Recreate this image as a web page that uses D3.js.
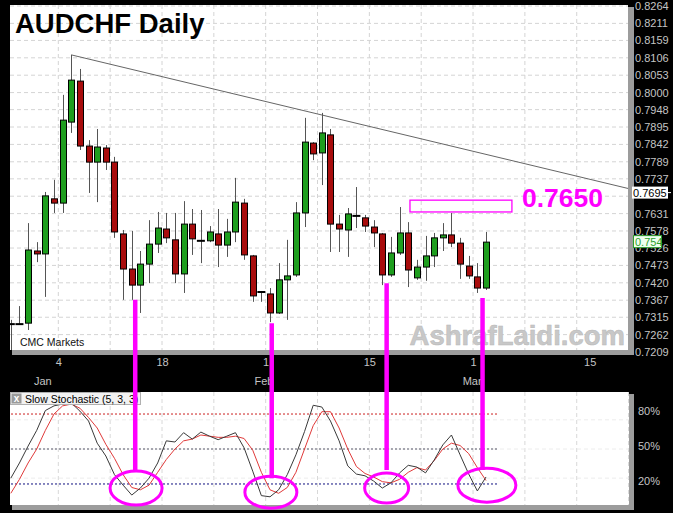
<!DOCTYPE html>
<html><head><meta charset="utf-8">
<script src="https://cdn.jsdelivr.net/npm/d3@7"></script>
<style>body{margin:0;background:#000;}svg{display:block;font-family:Arial,"Liberation Sans",sans-serif;}</style>
</head><body><svg id="c" width="673" height="513"></svg>
<script>
// ---------- data ----------
const opens  = [.7294,.7294,.7297,.7517,.7508,.7676,.7663,.7910,.8035,.7837,.7788,.7831,.7788,.7569,.7462,.7413,.7477,.7538,.7584,.7551,.7447,.7599,.7548,.7548,.7569,.7535,.7575,.7663,.7502,.7392,.7386,.7328,.7429,.7444,.7633,.7846,.7816,.7871,.7599,.7581,.7624,.7618,.7590,.7569,.7444,.7511,.7572,.7435,.7468,.7502,.7557,.7566,.7541,.7471,.7438,.7404];
const highs  = [.7307,.7349,.7602,.7544,.7697,.7734,.7993,.8115,.8072,.7855,.7889,.7840,.7804,.7581,.7578,.7517,.7611,.7636,.7633,.7633,.7669,.7645,.7642,.7593,.7645,.7615,.7740,.7676,.7505,.7395,.7404,.7480,.7551,.7666,.7923,.7849,.7938,.7889,.7627,.7648,.7712,.7627,.7611,.7572,.7560,.7651,.7605,.7490,.7563,.7572,.7602,.7633,.7557,.7502,.7480,.7575];
const lows   = [.7215,.7294,.7276,.7483,.7377,.7633,.7633,.7877,.7825,.7694,.7666,.7764,.7557,.7368,.7368,.7328,.7419,.7511,.7541,.7419,.7389,.7505,.7480,.7544,.7468,.7499,.7544,.7490,.7362,.7362,.7300,.7325,.7307,.7438,.7590,.7794,.7718,.7514,.7514,.7499,.7587,.7575,.7529,.7413,.7438,.7505,.7407,.7429,.7426,.7468,.7517,.7529,.7432,.7432,.7389,.7398];
const closes = [.7294,.7294,.7520,.7508,.7685,.7663,.7916,.8038,.7837,.7788,.7834,.7788,.7575,.7462,.7413,.7477,.7538,.7587,.7557,.7447,.7599,.7554,.7548,.7575,.7535,.7575,.7666,.7505,.7380,.7392,.7328,.7429,.7441,.7633,.7849,.7813,.7877,.7599,.7584,.7630,.7624,.7593,.7572,.7444,.7511,.7572,.7459,.7468,.7502,.7557,.7566,.7541,.7477,.7441,.7404,.7544];

const stochK = [25,38,52.5,66,83,87,88.5,89.5,82.5,74,55,44,28,19,10.5,16.5,25,38,57,56,64,58.5,64.5,61,58,61,64,51,31,10,9,15,28,45,65,87.5,86,74,57,35.5,28.5,27,22.5,16.5,21,29.5,36,34.5,29.5,40.5,53.5,62,45,28.5,14,26];
const stochD = [12,24,38,50,66,80,87,88.5,85,77,68,54,42,28,17,15,19,30,41,50,57,58.5,62,61,60,60,61,59,49,30,15,12,17,30,50,70,82,82,68,50,35,29,26,22,21,24,30,34,32,40,50,55,53,46,34,23];
const stochLevels = [80,50,20];
const stochLevelLabels = ["80%","50%","20%"];

const priceTicks = [0.8264,0.8211,0.8159,0.8106,0.8053,0.8000,0.7948,0.7895,0.7842,0.7789,0.7737,0.7684,0.7631,0.7578,0.7526,0.7473,0.7420,0.7367,0.7315,0.7262,0.7209];
const hiddenTick = 0.7684; // covered by the last-value box in the reference
const dayLabels = ["4","18","1","15","1","15"];
const dayIdx    = [5.5,17.5,29.5,41.5,53.5,67];
const monthLabels = ["Jan","Feb","Mar"];
const monthIdx    = [3.7,29.3,53.4];
const gridIdx = [5.5,11.5,17.5,23.5,29.5,35.5,41.5,47.5,53.5,59.5,65.5,71.5];

const trendIdx   = [7, 71.7];
const trendPrice = [0.8115, 0.7706];
const zoneIdx    = [46.2, 58];
const zonePrice  = [0.7636, 0.7672];
const zoneLabel  = "0.7650";
const lastLine   = 0.7695;
const lastPrice  = 0.7544;

const markIdx    = [14.4, 30.2, 43.5, 54.6];
const markPrice  = [0.7368, 0.7297, 0.7419, 0.7374];
const markStoch  = [31, 25, 32, 32];
const ringIdx    = [14.5, 30.1, 43.5, 55.1];
const ringStoch  = [16.5, 13, 16.5, 19];

// ---------- scales ----------
const x  = d3.scaleLinear().domain([0, 55]).range([10.8, 486]);
const y  = d3.scaleLinear().domain([0.7209, 0.8264]).range([352, 6]);
const ys = d3.scaleLinear().domain([0, 100]).range([507.3, 390.7]);

const svg = d3.select("#c");
svg.append("rect").attr("width",673).attr("height",513).attr("fill","#000");

// panels
const P = {x0:10, x1:628, y0:5, y1:350};
const S = {x0:10, x1:629, y0:392, y1:505};
svg.append("rect").attr("x",P.x0+2).attr("y",P.y0+2).attr("width",P.x1-P.x0+4).attr("height",P.y1-P.y0+3).attr("fill","#9c9c9c");
svg.append("rect").attr("x",P.x0).attr("y",P.y0).attr("width",P.x1-P.x0).attr("height",P.y1-P.y0).attr("fill","#fff");
svg.append("rect").attr("x",S.x0+2).attr("y",S.y0+2).attr("width",S.x1-S.x0+3).attr("height",S.y1-S.y0+3).attr("fill","#9c9c9c");
svg.append("rect").attr("x",S.x0).attr("y",S.y0).attr("width",S.x1-S.x0).attr("height",S.y1-S.y0).attr("fill","#fff");

const defs = svg.append("defs");
defs.append("clipPath").attr("id","cp").append("rect").attr("x",P.x0).attr("y",P.y0).attr("width",P.x1-P.x0).attr("height",P.y1-P.y0);
defs.append("clipPath").attr("id","cs").append("rect").attr("x",S.x0).attr("y",S.y0).attr("width",S.x1-S.x0).attr("height",S.y1-S.y0);

const gm = svg.append("g").attr("clip-path","url(#cp)");
const gs = svg.append("g").attr("clip-path","url(#cs)");

// grids
gm.selectAll(".hg").data(priceTicks).join("line")
  .attr("x1",P.x0).attr("x2",P.x1).attr("y1",d=>y(d)).attr("y2",d=>y(d))
  .attr("stroke","#d4d4d4").attr("stroke-dasharray","4,3").attr("stroke-width",1);
gm.selectAll(".vg").data(gridIdx).join("line")
  .attr("x1",d=>x(d)).attr("x2",d=>x(d)).attr("y1",P.y0).attr("y2",P.y1)
  .attr("stroke","#d4d4d4").attr("stroke-dasharray","4,3").attr("stroke-width",1);
gs.selectAll(".vg").data(gridIdx).join("line")
  .attr("x1",d=>x(d)).attr("x2",d=>x(d)).attr("y1",S.y0).attr("y2",S.y1)
  .attr("stroke","#d8d8d8").attr("stroke-dasharray","4,3");
gs.selectAll(".sg").data([25,50,75]).join("line")
  .attr("x1",S.x0).attr("x2",S.x1).attr("y1",d=>ys(d)).attr("y2",d=>ys(d))
  .attr("stroke","#ececec").attr("stroke-dasharray","4,3");

// watermark & labels in panel
gm.append("text").attr("x",20).attr("y",346).attr("font-size",10.5).attr("fill","#111").text("CMC Markets");
gm.append("text").attr("x",625).attr("y",345).attr("text-anchor","end").attr("font-size",27.5).attr("font-weight","bold")
  .attr("fill","#c8c8c8").attr("stroke","#b8b8b8").attr("stroke-width",0.5).text("AshrafLaidi.com");

// trend line
gm.append("line").attr("x1",x(trendIdx[0])).attr("y1",y(trendPrice[0])).attr("x2",x(trendIdx[1])).attr("y2",y(trendPrice[1]))
  .attr("stroke","#666").attr("stroke-width",1);

// candles
const idx = d3.range(opens.length);
const bw = 6;
gm.selectAll(".wick").data(idx).join("line")
  .attr("x1",i=>Math.round(x(i))+0.5).attr("x2",i=>Math.round(x(i))+0.5)
  .attr("y1",i=>y(highs[i])).attr("y2",i=>y(lows[i]))
  .attr("stroke","#555").attr("stroke-width",1);
gm.selectAll(".body").data(idx.filter(i=>opens[i]!==closes[i])).join("rect")
  .attr("x",i=>Math.round(x(i))-bw/2+0.5).attr("width",bw)
  .attr("y",i=>y(Math.max(opens[i],closes[i])))
  .attr("height",i=>Math.max(1,Math.abs(y(opens[i])-y(closes[i]))))
  .attr("fill",i=>closes[i]>opens[i]?"#1e9e1e":"#a80c0c")
  .attr("stroke","#000").attr("stroke-width",1);
gm.selectAll(".doji").data(idx.filter(i=>opens[i]===closes[i])).join("line")
  .attr("x1",i=>x(i)-4).attr("x2",i=>x(i)+4)
  .attr("y1",i=>y(opens[i])).attr("y2",i=>y(opens[i]))
  .attr("stroke","#000").attr("stroke-width",2);

// resistance zone
gm.append("rect").attr("x",x(zoneIdx[0])).attr("y",y(zonePrice[1]))
  .attr("width",x(zoneIdx[1])-x(zoneIdx[0])).attr("height",y(zonePrice[0])-y(zonePrice[1]))
  .attr("fill","none").attr("stroke","#ff00ff").attr("stroke-width",1.3);
svg.append("text").attr("x",x(zoneIdx[1])+10).attr("y",y(zonePrice[0])-4.5)
  .attr("font-size",26.5).attr("font-weight","bold").attr("fill","#ff00ff").text(zoneLabel);

// title
svg.append("text").attr("x",15).attr("y",33).attr("font-size",27.5).attr("font-weight","bold").attr("fill","#000").text("AUDCHF Daily");

// price axis
const pa = svg.append("g").attr("transform","translate(632,0)")
  .call(d3.axisRight(y).tickValues(priceTicks.filter(d=>d!==hiddenTick)).tickFormat(d3.format(".4f")).tickSize(0).tickPadding(3));
pa.select(".domain").remove();
pa.selectAll("text").attr("fill","#c4c4c4").attr("font-size",11).attr("font-family","Arial, Liberation Sans, sans-serif");

// last-value boxes
svg.append("rect").attr("x",632).attr("y",y(lastLine)-6).attr("width",36).attr("height",12).attr("fill","#fff");
svg.append("line").attr("x1",668).attr("x2",671).attr("y1",y(lastLine)).attr("y2",y(lastLine)).attr("stroke","#fff");
svg.append("text").attr("x",633).attr("y",y(lastLine)+4).attr("font-size",11).attr("fill","#000").text(d3.format(".4f")(lastLine));
svg.append("rect").attr("x",633.5).attr("y",y(lastPrice)-6.5).attr("width",28).attr("height",12).attr("fill","#effff0").attr("stroke","#2e9e2e");
svg.append("text").attr("x",635).attr("y",y(lastPrice)+4).attr("font-size",11).attr("fill","#2e9e2e").text(d3.format(".3f")(lastPrice));

// date axis
const da = svg.append("g").attr("transform","translate(0,356)")
  .call(d3.axisBottom(x).tickValues(dayIdx).tickFormat((d,i)=>dayLabels[i]).tickSize(0).tickPadding(2));
da.select(".domain").remove();
da.selectAll("text").attr("fill","#c4c4c4").attr("font-size",11).attr("font-family","Arial, Liberation Sans, sans-serif");
svg.selectAll(".mon").data(monthLabels).join("text")
  .attr("x",(d,i)=>x(monthIdx[i])).attr("y",385).attr("text-anchor","middle")
  .attr("font-size",11).attr("fill","#c4c4c4").text(d=>d);

// stochastic levels
const levelColors = ["#cc2020","#555566","#101080"];
gs.selectAll(".lvl").data(stochLevels).join("line")
  .attr("x1",S.x0+1).attr("x2",x(56.5)).attr("y1",d=>ys(d)).attr("y2",d=>ys(d))
  .attr("stroke",(d,i)=>levelColors[i]).attr("stroke-dasharray","2,2").attr("stroke-width",1);
svg.selectAll(".lvlt").data(stochLevels).join("text")
  .attr("x",638).attr("y",d=>ys(d)+1).attr("font-size",11).attr("fill","#c4c4c4")
  .text((d,i)=>stochLevelLabels[i]);

const ln = arr => d3.line().x((d,i)=>x(i)).y(d=>ys(d))(arr);
gs.append("path").attr("d",ln(stochD)).attr("fill","none").attr("stroke","#e03a3a").attr("stroke-width",1);
gs.append("path").attr("d",ln(stochK)).attr("fill","none").attr("stroke","#3a3a3a").attr("stroke-width",1);

// legend
svg.append("rect").attr("x",10.5).attr("y",392.5).attr("width",130).attr("height",12).attr("fill","#f2f2f2").attr("stroke","#b0b0b0");
svg.append("rect").attr("x",11.5).attr("y",393.5).attr("width",10).attr("height",10).attr("fill","#9a9a9a");
svg.append("text").attr("x",16.5).attr("y",402).attr("text-anchor","middle").attr("font-size",10).attr("font-weight","bold").attr("fill","#fff").text("x");
svg.append("text").attr("x",25).attr("y",402.5).attr("font-size",10.5).attr("fill","#000").text("Slow Stochastic (5, 3, 3)");

// magenta annotations
const ringR = [[26,17],[26,16],[22,15],[29,17]];
svg.selectAll(".mk").data(markIdx).join("line")
  .attr("x1",d=>x(d)).attr("x2",d=>x(d))
  .attr("y1",(d,i)=>y(markPrice[i])).attr("y2",(d,i)=>ys(markStoch[i]))
  .attr("stroke","#ff00ff").attr("stroke-width",4.5);
svg.selectAll(".rg").data(ringIdx).join("ellipse")
  .attr("cx",d=>x(d)).attr("cy",(d,i)=>ys(ringStoch[i]))
  .attr("rx",(d,i)=>ringR[i][0]).attr("ry",(d,i)=>ringR[i][1])
  .attr("fill","none").attr("stroke","#ff00ff").attr("stroke-width",3);
</script></body></html>
